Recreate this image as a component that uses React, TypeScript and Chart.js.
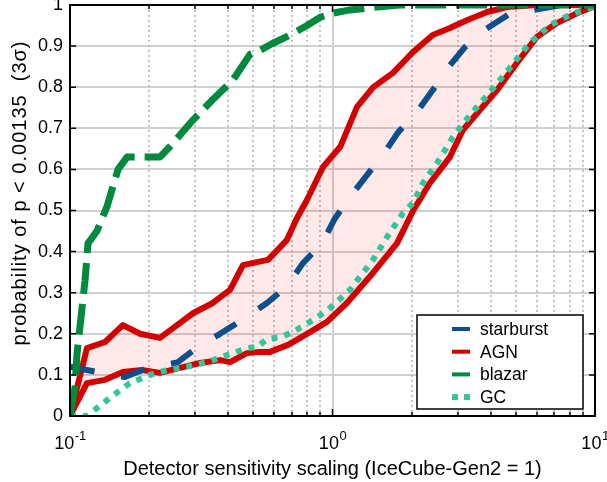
import React, { useEffect, useRef } from 'react';
import { Chart, registerables } from 'chart.js';

Chart.register(...registerables);

// ---------------- data ----------------
const agnUpperX = [0.1, 0.116, 0.136, 0.159, 0.185, 0.22, 0.262, 0.294, 0.35, 0.407, 0.456, 0.52, 0.568, 0.67, 0.73, 0.8, 0.92, 1.07, 1.24, 1.43, 1.7, 2.03, 2.41, 2.8, 3.25, 3.88, 4.62, 6.0, 10];
const agnUpperY = [0, 0.165, 0.18, 0.221, 0.2, 0.19, 0.226, 0.25, 0.275, 0.307, 0.367, 0.375, 0.38, 0.428, 0.48, 0.526, 0.606, 0.655, 0.752, 0.8, 0.835, 0.886, 0.927, 0.944, 0.963, 0.983, 0.995, 1.0, 1.0];

const agnLowerX = [0.1, 0.116, 0.136, 0.159, 0.188, 0.22, 0.262, 0.313, 0.373, 0.407, 0.472, 0.53, 0.578, 0.677, 0.8, 0.953, 1.135, 1.426, 1.76, 2.03, 2.35, 2.8, 3.14, 3.65, 4.24, 5.04, 6.0, 7.16, 8.54, 9.83, 10];
const agnLowerY = [0, 0.08, 0.088, 0.107, 0.112, 0.105, 0.117, 0.129, 0.136, 0.131, 0.153, 0.156, 0.156, 0.173, 0.2, 0.229, 0.275, 0.348, 0.42, 0.5, 0.567, 0.63, 0.696, 0.745, 0.793, 0.859, 0.922, 0.956, 0.98, 0.995, 1.0];

const starburstX = [0.1, 0.127, 0.162, 0.198, 0.256, 0.307, 0.373, 0.464, 0.563, 0.671, 0.772, 0.912, 1.02, 1.166, 1.353, 1.557, 1.777, 2.1, 2.41, 2.75, 3.2, 3.81, 4.66, 5.8, 7.55, 10];
const starburstY = [0.12, 0.107, 0.095, 0.117, 0.13, 0.168, 0.2, 0.238, 0.275, 0.316, 0.372, 0.42, 0.48, 0.533, 0.586, 0.635, 0.69, 0.74, 0.793, 0.847, 0.898, 0.94, 0.976, 0.988, 1.0, 1.0];

const blazarX = [0.1, 0.1045, 0.1063, 0.1141, 0.1171, 0.1267, 0.1384, 0.1524, 0.165, 0.22, 0.24, 0.294, 0.35, 0.418, 0.485, 0.53, 0.593, 0.689, 0.8, 0.896, 1.0, 1.166, 1.48, 1.8, 10];
const blazarY = [0, 0.07, 0.15, 0.33, 0.42, 0.45, 0.51, 0.6, 0.63, 0.63, 0.655, 0.72, 0.77, 0.818, 0.88, 0.89, 0.907, 0.927, 0.95, 0.97, 0.98, 0.988, 0.995, 1.0, 1.0];

const gcX = [0.1, 0.116, 0.127, 0.146, 0.169, 0.202, 0.234, 0.279, 0.333, 0.396, 0.472, 0.516, 0.563, 0.631, 0.707, 0.873, 0.961, 1.166, 1.426, 1.613, 1.856, 2.026, 2.213, 2.5, 2.877, 3.34, 3.98, 4.74, 5.65, 6.74, 8.03, 9.57, 10];
const gcY = [0, 0, 0.02, 0.05, 0.08, 0.1, 0.112, 0.12, 0.131, 0.148, 0.165, 0.168, 0.187, 0.192, 0.204, 0.24, 0.258, 0.307, 0.38, 0.435, 0.494, 0.518, 0.567, 0.615, 0.679, 0.732, 0.788, 0.847, 0.908, 0.951, 0.976, 0.993, 1.0];

const yTickLabels = ['0', '0.1', '0.2', '0.3', '0.4', '0.5', '0.6', '0.7', '0.8', '0.9', '1'];
const xMajorTicks = [0.1, 1, 10];
const xMajorExponents = ['-1', '0', '1'];
const xMinorTicks = [0.2, 0.3, 0.4, 0.5, 0.6, 0.7, 0.8, 0.9, 2, 3, 4, 5, 6, 7, 8, 9];
const yTickValues = [0, 0.1, 0.2, 0.3, 0.4, 0.5, 0.6, 0.7, 0.8, 0.9, 1];

const xTitle = 'Detector sensitivity scaling (IceCube-Gen2 = 1)';
const yTitle = 'probability of p < 0.00135  (3\u03C3)';
const legendLabels = ['starburst', 'AGN', 'blazar', 'GC'];

const BLUE = '#0d4f8b';
const RED = '#d40000';
const GREEN = '#008a3e';
const TEAL = '#33c699';
const FONT = "'Liberation Sans', Arial, Helvetica, sans-serif";

const pts = (xs: number[], ys: number[]) => xs.map((x, i) => ({ x, y: ys[i] }));

const matlabPlugin = {
  id: 'matlabAxes',
  beforeDatasetsDraw(chart: any) {
    const { ctx, chartArea: a, scales } = chart;
    const xs = scales.x;
    ctx.save();
    ctx.strokeStyle = '#b0b0b0';
    ctx.lineWidth = 1.5;
    ctx.setLineDash([2, 3]);
    for (const v of xMinorTicks) {
      const px = Math.round(xs.getPixelForValue(v));
      ctx.beginPath();
      ctx.moveTo(px, a.top);
      ctx.lineTo(px, a.bottom);
      ctx.stroke();
    }
    ctx.setLineDash([]);
    ctx.strokeStyle = '#d0d0d0';
    ctx.lineWidth = 2;
    for (const v of xMajorTicks) {
      const px = Math.round(xs.getPixelForValue(v));
      ctx.beginPath();
      ctx.moveTo(px, a.top);
      ctx.lineTo(px, a.bottom);
      ctx.stroke();
    }
    ctx.restore();
  },
  afterDraw(chart: any) {
    const { ctx, chartArea: a, scales } = chart;
    const xs = scales.x;
    const ys = scales.y;
    ctx.save();
    // frame
    ctx.strokeStyle = '#000';
    ctx.lineWidth = 2;
    ctx.strokeRect(a.left, a.top, a.right - a.left, a.bottom - a.top);
    // ticks (inward)
    ctx.lineWidth = 1.5;
    ctx.beginPath();
    for (const v of yTickValues) {
      const py = ys.getPixelForValue(v);
      ctx.moveTo(a.left, py); ctx.lineTo(a.left + 6, py);
      ctx.moveTo(a.right, py); ctx.lineTo(a.right - 6, py);
    }
    for (const v of xMajorTicks) {
      const px = xs.getPixelForValue(v);
      ctx.moveTo(px, a.bottom); ctx.lineTo(px, a.bottom - 7);
      ctx.moveTo(px, a.top); ctx.lineTo(px, a.top + 7);
    }
    for (const v of xMinorTicks) {
      const px = Math.round(xs.getPixelForValue(v));
      ctx.moveTo(px, a.bottom); ctx.lineTo(px, a.bottom - 4);
      ctx.moveTo(px, a.top); ctx.lineTo(px, a.top + 4);
    }
    ctx.stroke();

    // x tick labels with superscripts
    ctx.fillStyle = '#000';
    ctx.textBaseline = 'alphabetic';
    ctx.textAlign = 'left';
    xMajorTicks.forEach((v, i) => {
      const px = xs.getPixelForValue(v);
      ctx.font = `18px ${FONT}`;
      const wBase = ctx.measureText('10').width;
      ctx.font = `13px ${FONT}`;
      const wExp = ctx.measureText(xMajorExponents[i]).width;
      const start = px - (wBase + wExp) / 2;
      ctx.font = `18px ${FONT}`;
      ctx.fillText('10', start, a.bottom + 33);
      ctx.font = `13px ${FONT}`;
      ctx.fillText(xMajorExponents[i], start + wBase + 0.5, a.bottom + 24);
    });

    // titles
    ctx.font = `20px ${FONT}`;
    ctx.textAlign = 'center';
    ctx.textBaseline = 'alphabetic';
    ctx.fillText(xTitle, (a.left + a.right) / 2, a.bottom + 59);
    ctx.save();
    ctx.translate(26, 193);
    ctx.rotate(-Math.PI / 2);
    try { (ctx as any).letterSpacing = '1px'; } catch (e) { /* ignore */ }
    ctx.fillText(yTitle, 0, 0);
    ctx.restore();

    // legend
    const bw = 166, bh = 94;
    const bx = a.right - 12 - bw;
    const by = a.bottom - 7 - bh;
    ctx.fillStyle = '#fff';
    ctx.fillRect(bx, by, bw, bh);
    ctx.strokeStyle = '#000';
    ctx.lineWidth = 1.5;
    ctx.strokeRect(bx, by, bw, bh);
    const colors = [BLUE, RED, GREEN, TEAL];
    ctx.font = `17.5px ${FONT}`;
    ctx.textAlign = 'left';
    ctx.textBaseline = 'middle';
    legendLabels.forEach((lab, i) => {
      const ry = by + 14 + i * 22.7;
      const lx = bx + 35;
      if (i === 3) {
        ctx.fillStyle = colors[i];
        ctx.fillRect(lx, ry - 3, 6, 6);
        ctx.fillRect(lx + 12, ry - 3, 6, 6);
      } else {
        ctx.strokeStyle = colors[i];
        ctx.lineWidth = 4;
        ctx.beginPath();
        ctx.moveTo(lx, ry);
        ctx.lineTo(lx + 18, ry);
        ctx.stroke();
      }
      ctx.fillStyle = '#000';
      ctx.fillText(lab, bx + 63, ry + 1);
    });
    ctx.restore();
  },
};

export default function App() {
  const ref = useRef<HTMLCanvasElement>(null);
  useEffect(() => {
    if (!ref.current) return;
    Chart.defaults.font.family = FONT;
    const chart = new Chart(ref.current, {
      type: 'line',
      data: {
        datasets: [
          {
            label: 'AGN upper',
            data: pts(agnUpperX, agnUpperY),
            borderColor: RED,
            borderWidth: 6,
            backgroundColor: 'rgba(255, 0, 0, 0.09)',
            fill: 1,
            order: 4,
          },
          {
            label: 'AGN lower',
            data: pts(agnLowerX, agnLowerY),
            borderColor: RED,
            borderWidth: 6,
            fill: false,
            order: 3,
          },
          {
            label: 'starburst',
            data: pts(starburstX, starburstY),
            borderColor: BLUE,
            borderWidth: 6,
            borderDash: [25, 27],
            fill: false,
            order: 2,
          },
          {
            label: 'GC',
            data: pts(gcX, gcY),
            borderColor: TEAL,
            borderWidth: 6,
            borderDash: [6, 7],
            fill: false,
            order: 1,
          },
          {
            label: 'blazar',
            data: pts(blazarX, blazarY),
            borderColor: GREEN,
            borderWidth: 7,
            borderDash: [31, 10],
            fill: false,
            order: 0,
          },
        ],
      },
      options: {
        animation: false,
        responsive: false,
        parsing: true,
        layout: { padding: { top: 5, right: 12, left: 0, bottom: 0 } },
        elements: {
          point: { radius: 0, hoverRadius: 0 },
          line: { tension: 0, borderCapStyle: 'butt', borderJoinStyle: 'round' },
        },
        plugins: {
          legend: { display: false },
          tooltip: { enabled: false },
        },
        scales: {
          x: {
            type: 'logarithmic',
            min: 0.1,
            max: 10,
            ticks: { display: false },
            grid: { display: false },
            border: { display: false },
            afterFit: (s: any) => { s.height = 66; s.paddingLeft = 0; s.paddingRight = 0; },
          },
          y: {
            type: 'linear',
            min: 0,
            max: 1,
            ticks: {
              stepSize: 0.1,
              padding: 7,
              color: '#000',
              font: { size: 18, family: FONT },
              callback: (_v: any, i: number) => yTickLabels[i],
            },
            grid: { color: '#d0d0d0', lineWidth: 2, drawTicks: false },
            border: { display: false },
            afterFit: (s: any) => { s.width = 70; s.paddingTop = 0; s.paddingBottom = 0; },
          },
        },
      },
      plugins: [matlabPlugin],
    } as any);
    return () => chart.destroy();
  }, []);
  return (
    <div style={{ position: 'absolute', left: 0, top: 0, width: 607, height: 482, background: '#fff' }}>
      <canvas ref={ref} width={607} height={482} />
    </div>
  );
}
